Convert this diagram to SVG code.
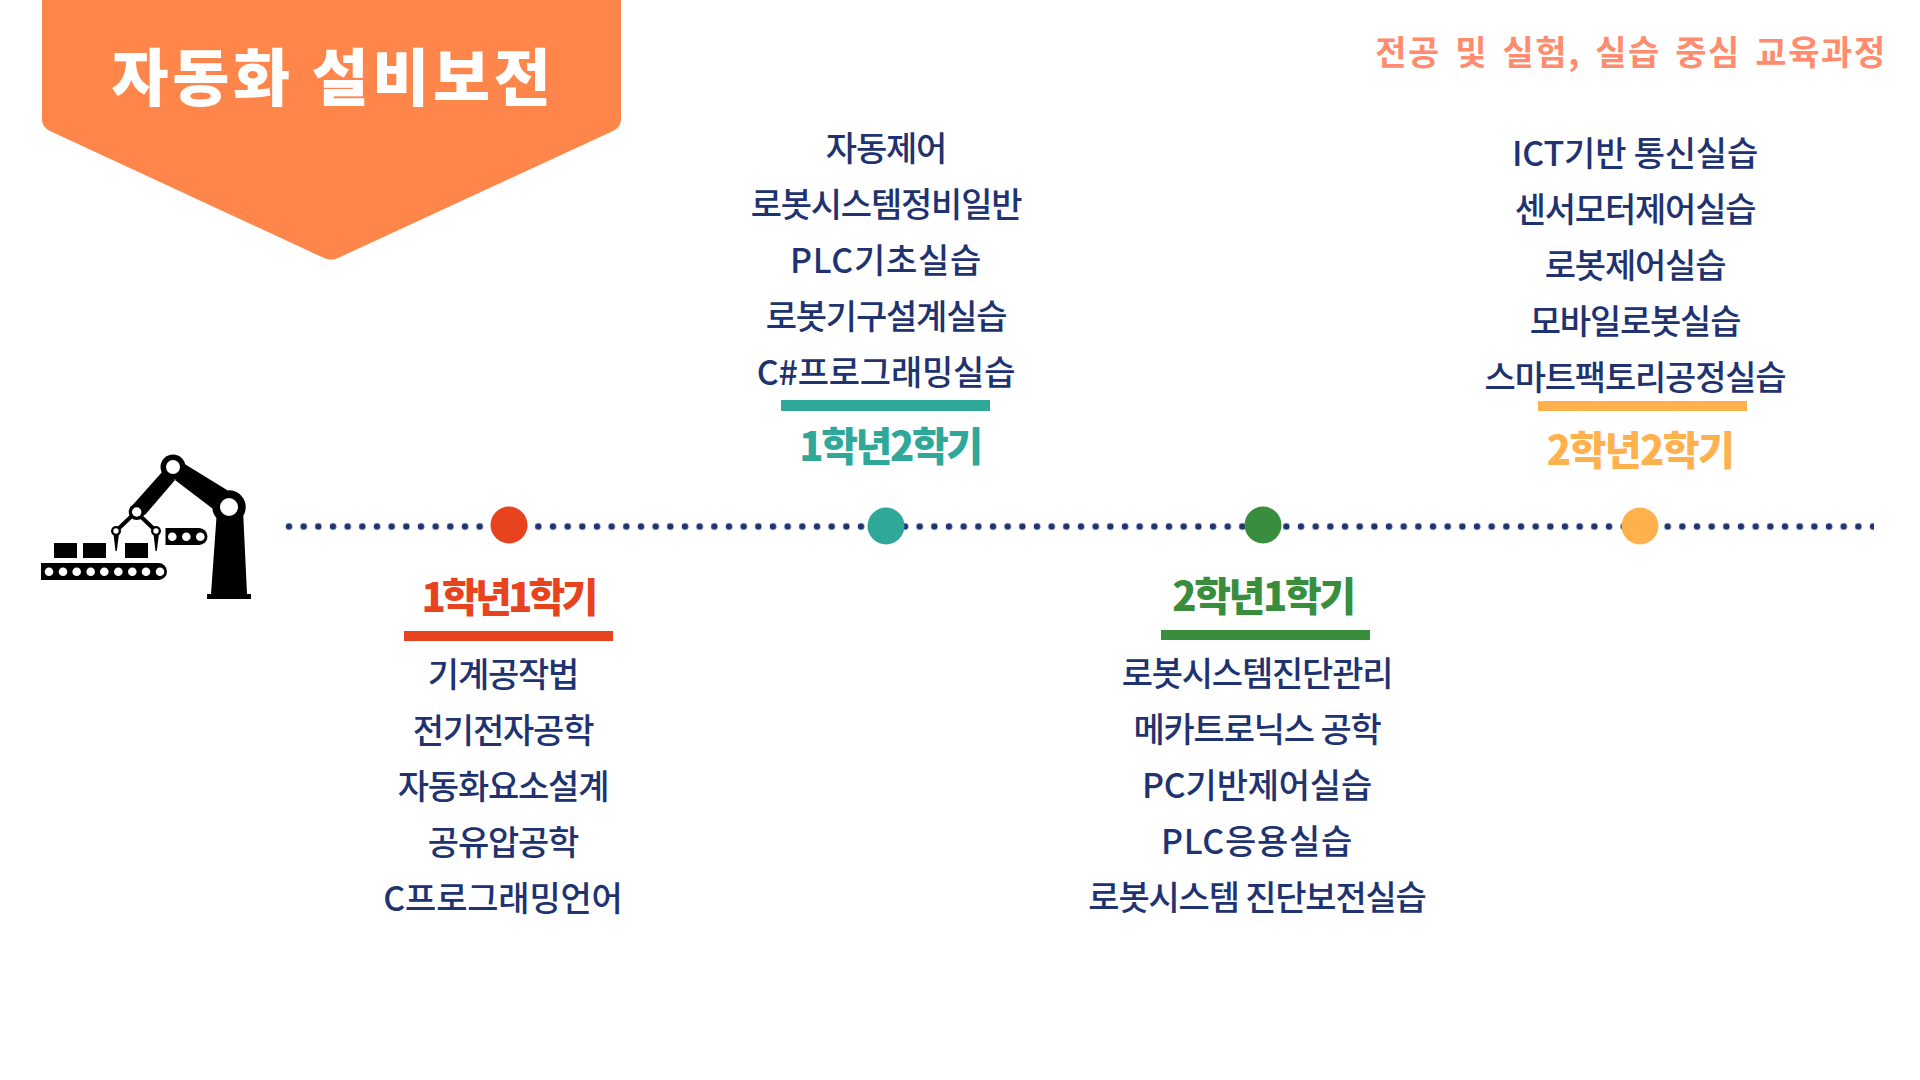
<svg xmlns="http://www.w3.org/2000/svg" width="1920" height="1080" viewBox="0 0 1920 1080">
<style>
text{font-family:"Noto Sans CJK KR","Noto Sans",sans-serif;text-anchor:middle}
.c{font-size:34px;font-weight:500;fill:#1f3370;letter-spacing:-1.2px}
.m{letter-spacing:-0.2px}
.p{letter-spacing:0.7px}
.h{font-size:40px;font-weight:900;letter-spacing:-2.400px}
</style>
<defs><pattern id="dots" x="282" y="519.500" width="14.667" height="14" patternUnits="userSpaceOnUse"><circle cx="7" cy="7" r="3.300" fill="#1f3370"/></pattern></defs>
<rect width="1920" height="1080" fill="#fff"/>
<g id="banner">
<path d="M42 0H621V120Q621 127 613 131L338 258Q331 261 324 258L50 131Q42 127 42 120Z" fill="#ff864a"/>
<text x="333" y="101" font-size="62" font-weight="900" fill="#fff" letter-spacing="3.700">자동화 설비보전</text>
</g>
<g id="subtitle"><text x="1631" y="65" font-size="34" font-weight="700" fill="#ff8c6e" letter-spacing="1.600" word-spacing="5">전공 및 실험, 실습 중심 교육과정</text></g>
<g id="icon" fill="#000">
<rect x="54" y="543" width="23" height="15"/><rect x="83" y="543" width="23" height="15"/><rect x="125" y="543" width="23" height="15"/>
<path d="M41 563H158.500a8.500 8.500 0 0 1 0 17H41Z"/>
<path d="M165.500 528H199a8.500 8.500 0 0 1 0 17H165.500Z"/>
<path d="M183 463L227 490L217 512L175 480Z"/>
<path d="M163 471L130 508L145 515L175 480Z"/>
<path d="M217 510H243L247 594H211Z"/>
<rect x="207" y="594" width="44" height="5"/>
<circle cx="173" cy="467" r="12.500"/><circle cx="229" cy="507" r="16.700"/><circle cx="136.700" cy="512" r="8"/>
<path d="M116 531L136 512M156 531L136 512" fill="none" stroke="#000" stroke-width="4"/>
<circle cx="116" cy="531" r="5"/><circle cx="156" cy="531" r="5"/>
<path d="M113.500 534H119L116.800 551H115.500ZM153.500 534H159L156.800 551H155.500Z"/>
<g fill="#fff">
<circle cx="173" cy="467" r="7"/><circle cx="229" cy="507" r="9"/><circle cx="136.700" cy="512" r="4.700"/><circle cx="116" cy="531" r="2.700"/><circle cx="156" cy="531" r="2.700"/>
<circle cx="49" cy="571.700" r="4.300"/><circle cx="63" cy="571.700" r="4.300"/><circle cx="76.700" cy="571.700" r="4.300"/><circle cx="90.700" cy="571.700" r="4.300"/><circle cx="104.300" cy="571.700" r="4.300"/><circle cx="118.300" cy="571.700" r="4.300"/><circle cx="132.300" cy="571.700" r="4.300"/><circle cx="146" cy="571.700" r="4.300"/><circle cx="160" cy="571.700" r="4.300"/>
<circle cx="172.300" cy="536.700" r="4.300"/><circle cx="186.300" cy="536.700" r="4.300"/><circle cx="200.300" cy="536.700" r="4.300"/>
</g></g>
<g id="connectors"><rect x="282" y="519.500" width="1592" height="14" fill="url(#dots)"/></g>
<g id="s11"><circle cx="509" cy="525" r="18.500" fill="#e8431f"/><text class="h" x="508" y="612" fill="#e8431f" style="letter-spacing:-3.800px">1학년1학기</text><rect x="404" y="631" width="209" height="10" fill="#e8431f"/>
<text class="c" x="503" y="687">기계공작법</text><text class="c" x="503" y="743">전기전자공학</text><text class="c" x="503" y="799">자동화요소설계</text><text class="c" x="503" y="855">공유압공학</text><text class="c m" x="503" y="911">C프로그래밍언어</text></g>
<g id="s12"><circle cx="886" cy="526" r="18.500" fill="#2fa899"/><text class="h" x="890" y="461" fill="#2fa899">1학년2학기</text><rect x="781" y="400" width="209" height="11" fill="#2fa899"/>
<text class="c" x="886" y="161">자동제어</text><text class="c" x="886" y="217">로봇시스템정비일반</text><text class="c p" x="886" y="273">PLC기초실습</text><text class="c" x="886" y="329">로봇기구설계실습</text><text class="c m" x="886" y="385">C#프로그래밍실습</text></g>
<g id="s21"><circle cx="1263" cy="525" r="18.500" fill="#388e3c"/><text class="h" x="1263" y="611" fill="#388e3c">2학년1학기</text><rect x="1161" y="630" width="209" height="10" fill="#388e3c"/>
<text class="c" x="1257" y="686">로봇시스템진단관리</text><text class="c" x="1257" y="742">메카트로닉스 공학</text><text class="c m" x="1257" y="798">PC기반제어실습</text><text class="c p" x="1257" y="854">PLC응용실습</text><text class="c" x="1257" y="910">로봇시스템 진단보전실습</text></g>
<g id="s22"><circle cx="1640" cy="526" r="18.500" fill="#ffb14e"/><text class="h" x="1640" y="465" fill="#ffb14e" style="letter-spacing:-1.600px">2학년2학기</text><rect x="1538" y="401" width="209" height="10" fill="#ffb14e"/>
<text class="c m" x="1635" y="166">ICT기반 통신실습</text><text class="c" x="1635" y="222">센서모터제어실습</text><text class="c" x="1635" y="278">로봇제어실습</text><text class="c" x="1635" y="334">모바일로봇실습</text><text class="c" x="1635" y="390">스마트팩토리공정실습</text></g>
</svg>
